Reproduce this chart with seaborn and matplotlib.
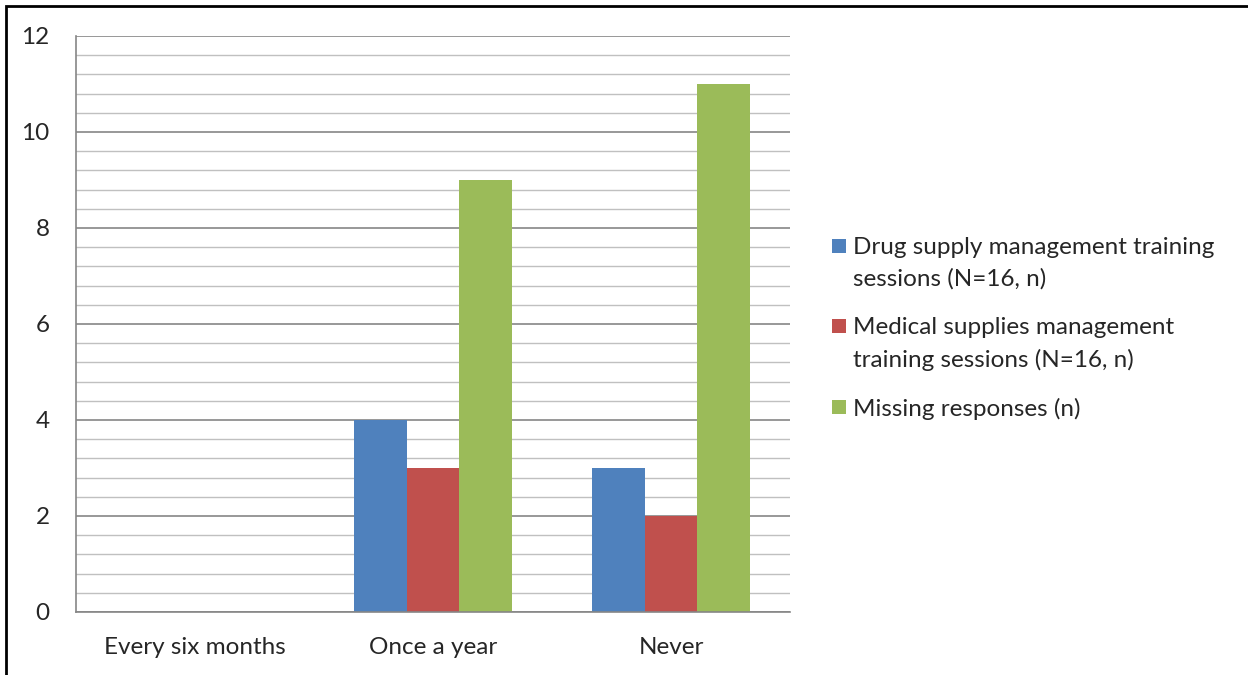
import numpy as np
import matplotlib
matplotlib.use('Agg')
import matplotlib.pyplot as plt
import matplotlib.patches as mpatches
import pandas as pd
import seaborn as sns

categories = ['Every six months', 'Once a year', 'Never']
series = ['Drug supply management training\nsessions (N=16, n)',
          'Medical supplies management\ntraining sessions (N=16, n)',
          'Missing responses (n)']
drug_supply = [0, 4, 3]
medical_supplies = [0, 3, 2]
missing = [0, 9, 11]
colors = ['#4f81bd', '#c0504d', '#9bbb59']

rows = []
for name, vals in zip(series, [drug_supply, medical_supplies, missing]):
    for cat, v in zip(categories, vals):
        rows.append({'Frequency': cat, 'Series': name, 'Count': v})
df = pd.DataFrame(rows)

sns.set_style('white')
plt.rcParams['font.family'] = ['Lato', 'DejaVu Sans']

W, H = 1248, 675
fig = plt.figure(figsize=(W / 100, H / 100), dpi=100)
ax = fig.add_axes([76 / W, 1 - 612 / H, (790 - 76) / W, (612 - 36) / H])

sns.barplot(data=df, x='Frequency', y='Count', hue='Series', order=categories,
            hue_order=series, palette=colors, width=0.66, saturation=1,
            edgecolor='none', linewidth=0, ax=ax, legend=False)

ax.set_xlim(-0.5, 2.5)
ax.set_ylim(0, 12)
ax.set_yticks(np.arange(0, 13, 2))
ax.set_yticks(np.arange(0, 12.01, 0.4), minor=True)
ax.grid(axis='y', which='major', color='#868686', linewidth=1.2)
ax.grid(axis='y', which='minor', color='#c0c0c0', linewidth=1)
ax.set_axisbelow(True)
ax.set_xlabel('')
ax.set_ylabel('')

# category boundary ticks on the x axis
ax.set_xticks([-0.5, 0.5, 1.5, 2.5], minor=True)
ax.tick_params(axis='x', which='major', length=0, pad=18, labelsize=17.5)
ax.tick_params(axis='x', which='minor', length=7, color='#868686', width=1.2)
ax.tick_params(axis='y', which='major', length=7, color='#868686', width=1.2,
               labelsize=17.5, pad=12)
ax.tick_params(axis='y', which='minor', length=0)

for s in ['top', 'right']:
    ax.spines[s].set_visible(False)
for s in ['left', 'bottom']:
    ax.spines[s].set_color('#868686')
    ax.spines[s].set_linewidth(1.2)

# legend drawn by hand so the swatch sits on the first line of each label
first_line_y = [246, 326, 407]
for label, col, yc in zip(series, colors, first_line_y):
    fig.add_artist(mpatches.Rectangle((832 / W, 1 - (yc + 7) / H), 14 / W, 14 / H,
                                      transform=fig.transFigure, color=col, lw=0))
    fig.text(853 / W, 1 - (yc - 9) / H, label, ha='left', va='top',
             fontsize=17.5, linespacing=1.6)

# outer frame (left and top edges visible)
fig.add_artist(mpatches.Rectangle((6 / W, -0.1), 1.2, 1 - 6 / H + 0.1,
                                  transform=fig.transFigure, fill=False,
                                  edgecolor='black', linewidth=2))

fig.savefig('out.png', dpi=100)
